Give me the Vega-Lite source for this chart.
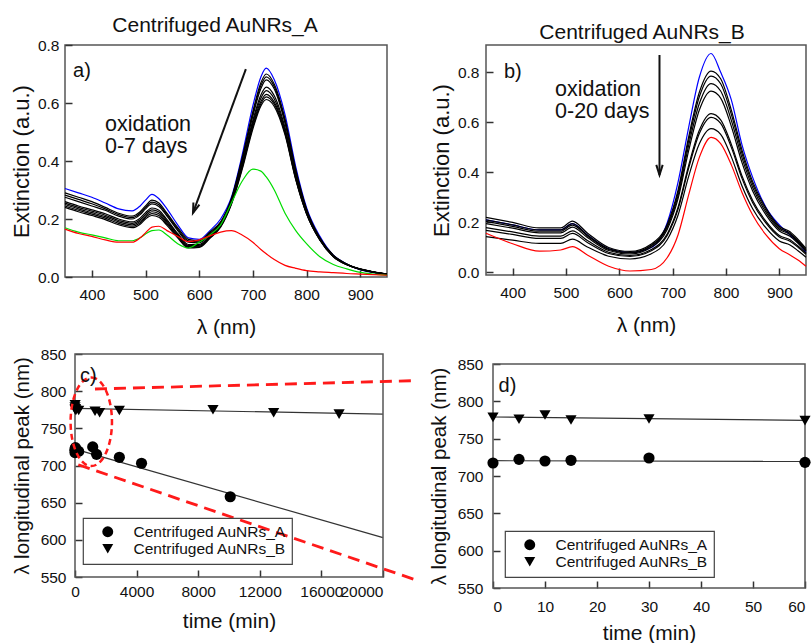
{
  "$schema": "https://vega.github.io/schema/vega-lite/v6.json",
  "background": "white",
  "padding": {"left": 9, "top": 14, "right": 2, "bottom": 2},
  "spacing": 8,
  "resolve": {"scale": {"color": "independent", "shape": "independent"}, "legend": {"color": "independent", "shape": "independent"}},
  "config": {
    "font": "Liberation Sans",
    "view": {"stroke": "#555", "strokeWidth": 1.5},
    "axis": {"grid": false, "domain": false, "ticks": true, "tickSize": 7, "offset": -7, "tickColor": "#333", "tickWidth": 1.5, "labelOverlap": false, "zindex": 1,
      "labelFont": "Liberation Sans", "labelFontSize": 15.5, "labelColor": "#111",
      "titleFont": "Liberation Sans", "titleFontSize": 21, "titleFontWeight": "normal", "titleColor": "#111"},
    "title": {"font": "Liberation Sans", "fontSize": 21, "fontWeight": "normal", "color": "#111", "anchor": "middle"},
    "legend": {"orient": "none", "title": null, "labelFont": "Liberation Sans", "labelFontSize": 15.5, "labelColor": "#111",
      "strokeColor": "#444", "strokeWidth": 1.2, "padding": 6, "symbolSize": 120, "symbolFillColor": "#000", "symbolStrokeWidth": 0,
      "symbolOffset": 11, "labelOffset": 18, "rowPadding": 0}
  },
  "datasets": {
    "specA": [
      {"wl":350,"pa":0.305,"pb":0.29,"pc":0.2825,"pd":0.275,"pe":0.26,"pf":0.255,"pg":0.25,"ph":0.245,"pi":0.24,"pj":0.17,"pk":0.165},
      {"wl":375,"pa":0.29,"pb":0.275,"pc":0.2675,"pd":0.26,"pe":0.245,"pf":0.24,"pg":0.235,"ph":0.23,"pi":0.225,"pj":0.155,"pk":0.15},
      {"wl":400,"pa":0.275,"pb":0.26,"pc":0.2525,"pd":0.245,"pe":0.232,"pf":0.227,"pg":0.222,"ph":0.217,"pi":0.212,"pj":0.145,"pk":0.14},
      {"wl":425,"pa":0.255,"pb":0.24,"pc":0.235,"pd":0.23,"pe":0.218,"pf":0.213,"pg":0.208,"ph":0.203,"pi":0.198,"pj":0.135,"pk":0.128},
      {"wl":450,"pa":0.235,"pb":0.22,"pc":0.215,"pd":0.21,"pe":0.2,"pf":0.195,"pg":0.19,"ph":0.185,"pi":0.18,"pj":0.125,"pk":0.12},
      {"wl":475,"pa":0.228,"pb":0.21,"pc":0.205,"pd":0.2,"pe":0.19,"pf":0.185,"pg":0.18,"ph":0.175,"pi":0.17,"pj":0.125,"pk":0.12},
      {"wl":490,"pa":0.245,"pb":0.225,"pc":0.22,"pd":0.215,"pe":0.203,"pf":0.1975,"pg":0.192,"ph":0.187,"pi":0.182,"pj":0.135,"pk":0.135},
      {"wl":500,"pa":0.265,"pb":0.245,"pc":0.24,"pd":0.235,"pe":0.222,"pf":0.216,"pg":0.21,"ph":0.205,"pi":0.2,"pj":0.148,"pk":0.152},
      {"wl":512,"pa":0.285,"pb":0.265,"pc":0.2585,"pd":0.252,"pe":0.238,"pf":0.2315,"pg":0.225,"ph":0.2185,"pi":0.212,"pj":0.16,"pk":0.172},
      {"wl":525,"pa":0.27,"pb":0.255,"pc":0.249,"pd":0.243,"pe":0.23,"pf":0.224,"pg":0.218,"ph":0.212,"pi":0.206,"pj":0.162,"pk":0.175},
      {"wl":540,"pa":0.235,"pb":0.22,"pc":0.215,"pd":0.21,"pe":0.198,"pf":0.193,"pg":0.188,"ph":0.183,"pi":0.178,"pj":0.145,"pk":0.16},
      {"wl":560,"pa":0.18,"pb":0.17,"pc":0.165,"pd":0.16,"pe":0.15,"pf":0.146,"pg":0.142,"ph":0.1385,"pi":0.135,"pj":0.115,"pk":0.14},
      {"wl":580,"pa":0.135,"pb":0.13,"pc":0.125,"pd":0.12,"pe":0.112,"pf":0.1085,"pg":0.105,"ph":0.1025,"pi":0.1,"pj":0.1,"pk":0.122},
      {"wl":600,"pa":0.13,"pb":0.125,"pc":0.1215,"pd":0.118,"pe":0.112,"pf":0.109,"pg":0.106,"ph":0.104,"pi":0.102,"pj":0.12,"pk":0.128},
      {"wl":620,"pa":0.16,"pb":0.155,"pc":0.1515,"pd":0.148,"pe":0.142,"pf":0.1395,"pg":0.137,"ph":0.135,"pi":0.133,"pj":0.145,"pk":0.142},
      {"wl":640,"pa":0.2,"pb":0.19,"pc":0.1875,"pd":0.185,"pe":0.18,"pf":0.178,"pg":0.176,"ph":0.174,"pi":0.172,"pj":0.18,"pk":0.155},
      {"wl":660,"pa":0.275,"pb":0.27,"pc":0.2675,"pd":0.265,"pe":0.26,"pf":0.2575,"pg":0.255,"ph":0.2525,"pi":0.25,"pj":0.255,"pk":0.16},
      {"wl":680,"pa":0.42,"pb":0.41,"pc":0.405,"pd":0.4,"pe":0.39,"pf":0.385,"pg":0.38,"ph":0.375,"pi":0.37,"pj":0.33,"pk":0.145},
      {"wl":700,"pa":0.59,"pb":0.57,"pc":0.5625,"pd":0.555,"pe":0.54,"pf":0.5325,"pg":0.525,"ph":0.5175,"pi":0.51,"pj":0.372,"pk":0.12},
      {"wl":715,"pa":0.69,"pb":0.67,"pc":0.66,"pd":0.65,"pe":0.628,"pf":0.6165,"pg":0.605,"ph":0.5975,"pi":0.59,"pj":0.365,"pk":0.095},
      {"wl":725,"pa":0.72,"pb":0.7,"pc":0.69,"pd":0.68,"pe":0.655,"pf":0.6425,"pg":0.63,"ph":0.621,"pi":0.612,"pj":0.345,"pk":0.08},
      {"wl":740,"pa":0.68,"pb":0.665,"pc":0.6565,"pd":0.648,"pe":0.625,"pf":0.614,"pg":0.603,"ph":0.5955,"pi":0.588,"pj":0.3,"pk":0.06},
      {"wl":760,"pa":0.56,"pb":0.545,"pc":0.5375,"pd":0.53,"pe":0.515,"pf":0.5075,"pg":0.5,"ph":0.495,"pi":0.49,"pj":0.22,"pk":0.04},
      {"wl":780,"pa":0.38,"pb":0.37,"pc":0.365,"pd":0.36,"pe":0.35,"pf":0.345,"pg":0.34,"ph":0.3375,"pi":0.335,"pj":0.16,"pk":0.03},
      {"wl":800,"pa":0.24,"pb":0.235,"pc":0.2325,"pd":0.23,"pe":0.225,"pf":0.2225,"pg":0.22,"ph":0.219,"pi":0.218,"pj":0.115,"pk":0.022},
      {"wl":825,"pa":0.14,"pb":0.135,"pc":0.1335,"pd":0.132,"pe":0.13,"pf":0.129,"pg":0.128,"ph":0.1275,"pi":0.127,"pj":0.07,"pk":0.018},
      {"wl":850,"pa":0.075,"pb":0.075,"pc":0.074,"pd":0.073,"pe":0.072,"pf":0.0715,"pg":0.071,"ph":0.0705,"pi":0.07,"pj":0.043,"pk":0.015},
      {"wl":875,"pa":0.045,"pb":0.045,"pc":0.0445,"pd":0.044,"pe":0.043,"pf":0.043,"pg":0.043,"ph":0.0425,"pi":0.042,"pj":0.028,"pk":0.012},
      {"wl":900,"pa":0.025,"pb":0.028,"pc":0.0275,"pd":0.027,"pe":0.027,"pf":0.027,"pg":0.027,"ph":0.0265,"pi":0.026,"pj":0.016,"pk":0.01},
      {"wl":925,"pa":0.015,"pb":0.018,"pc":0.0175,"pd":0.017,"pe":0.017,"pf":0.017,"pg":0.017,"ph":0.0165,"pi":0.016,"pj":0.01,"pk":0.008},
      {"wl":950,"pa":0.01,"pb":0.01,"pc":0.01,"pd":0.01,"pe":0.01,"pf":0.01,"pg":0.01,"ph":0.01,"pi":0.01,"pj":0.006,"pk":0.006}
    ],
    "specB": [
      {"wl":350,"qa":0.21,"qb":0.22,"qc":0.21,"qd":0.204,"qe":0.195,"qf":0.179,"qg":0.168,"qh":0.143,"qi":0.157},
      {"wl":400,"qa":0.19,"qb":0.2,"qc":0.19,"qd":0.184,"qe":0.177,"qf":0.162,"qg":0.152,"qh":0.129,"qi":0.115},
      {"wl":450,"qa":0.17,"qb":0.178,"qc":0.17,"qd":0.165,"qe":0.158,"qf":0.145,"qg":0.136,"qh":0.116,"qi":0.085},
      {"wl":490,"qa":0.17,"qb":0.178,"qc":0.17,"qd":0.165,"qe":0.158,"qf":0.145,"qg":0.136,"qh":0.116,"qi":0.09},
      {"wl":512,"qa":0.195,"qb":0.205,"qc":0.195,"qd":0.189,"qe":0.181,"qf":0.166,"qg":0.156,"qh":0.133,"qi":0.103},
      {"wl":540,"qa":0.15,"qb":0.158,"qc":0.15,"qd":0.146,"qe":0.14,"qf":0.128,"qg":0.12,"qh":0.102,"qi":0.07},
      {"wl":580,"qa":0.095,"qb":0.1,"qc":0.095,"qd":0.092,"qe":0.088,"qf":0.081,"qg":0.076,"qh":0.065,"qi":0.025},
      {"wl":620,"qa":0.08,"qb":0.084,"qc":0.08,"qd":0.078,"qe":0.074,"qf":0.068,"qg":0.064,"qh":0.054,"qi":0.006},
      {"wl":660,"qa":0.1,"qb":0.114,"qc":0.109,"qd":0.106,"qe":0.101,"qf":0.092,"qg":0.087,"qh":0.075,"qi":0.012},
      {"wl":690,"qa":0.2,"qb":0.194,"qc":0.187,"qd":0.181,"qe":0.173,"qf":0.155,"qg":0.149,"qh":0.132,"qi":0.06},
      {"wl":710,"qa":0.36,"qb":0.328,"qc":0.318,"qd":0.306,"qe":0.294,"qf":0.26,"qg":0.252,"qh":0.229,"qi":0.15},
      {"wl":730,"qa":0.58,"qb":0.542,"qc":0.527,"qd":0.508,"qe":0.487,"qf":0.428,"qg":0.417,"qh":0.384,"qi":0.31},
      {"wl":750,"qa":0.78,"qb":0.72,"qc":0.702,"qd":0.675,"qe":0.649,"qf":0.568,"qg":0.555,"qh":0.514,"qi":0.46},
      {"wl":772,"qa":0.875,"qb":0.805,"qc":0.785,"qd":0.755,"qe":0.725,"qf":0.635,"qg":0.62,"qh":0.575,"qi":0.54},
      {"wl":790,"qa":0.8,"qb":0.774,"qc":0.754,"qd":0.725,"qe":0.697,"qf":0.61,"qg":0.596,"qh":0.552,"qi":0.515},
      {"wl":810,"qa":0.69,"qb":0.649,"qc":0.632,"qd":0.608,"qe":0.584,"qf":0.512,"qg":0.5,"qh":0.462,"qi":0.43},
      {"wl":830,"qa":0.51,"qb":0.489,"qc":0.475,"qd":0.458,"qe":0.439,"qf":0.386,"qg":0.376,"qh":0.346,"qi":0.32},
      {"wl":850,"qa":0.38,"qb":0.363,"qc":0.353,"qd":0.34,"qe":0.326,"qf":0.288,"qg":0.279,"qh":0.255,"qi":0.23},
      {"wl":875,"qa":0.26,"qb":0.257,"qc":0.249,"qd":0.24,"qe":0.23,"qf":0.204,"qg":0.197,"qh":0.178,"qi":0.15},
      {"wl":900,"qa":0.19,"qb":0.185,"qc":0.179,"qd":0.173,"qe":0.166,"qf":0.148,"qg":0.142,"qh":0.126,"qi":0.095},
      {"wl":920,"qa":0.15,"qb":0.163,"qc":0.157,"qd":0.152,"qe":0.145,"qf":0.131,"qg":0.125,"qh":0.11,"qi":0.07},
      {"wl":935,"qa":0.12,"qb":0.132,"qc":0.126,"qd":0.122,"qe":0.117,"qf":0.106,"qg":0.101,"qh":0.087,"qi":0.05},
      {"wl":950,"qa":0.08,"qb":0.096,"qc":0.091,"qd":0.088,"qe":0.085,"qf":0.078,"qg":0.073,"qh":0.061,"qi":0.025}
    ],
    "ptsC": [
      {"series":"Centrifuged AuNRs_A","t":0,"v":717.4},
      {"series":"Centrifuged AuNRs_A","t":5,"v":722.3},
      {"series":"Centrifuged AuNRs_A","t":10,"v":720.1},
      {"series":"Centrifuged AuNRs_A","t":15,"v":721},
      {"series":"Centrifuged AuNRs_A","t":30,"v":724.1},
      {"series":"Centrifuged AuNRs_A","t":60,"v":718.3},
      {"series":"Centrifuged AuNRs_A","t":240,"v":719},
      {"series":"Centrifuged AuNRs_A","t":1150,"v":725},
      {"series":"Centrifuged AuNRs_A","t":1400,"v":715},
      {"series":"Centrifuged AuNRs_A","t":2880,"v":711},
      {"series":"Centrifuged AuNRs_A","t":4320,"v":703},
      {"series":"Centrifuged AuNRs_A","t":10080,"v":658},
      {"series":"Centrifuged AuNRs_B","t":0,"v":778.6},
      {"series":"Centrifuged AuNRs_B","t":5,"v":776},
      {"series":"Centrifuged AuNRs_B","t":10,"v":781.7},
      {"series":"Centrifuged AuNRs_B","t":15,"v":775},
      {"series":"Centrifuged AuNRs_B","t":30,"v":776.3},
      {"series":"Centrifuged AuNRs_B","t":60,"v":774.1},
      {"series":"Centrifuged AuNRs_B","t":240,"v":774},
      {"series":"Centrifuged AuNRs_B","t":1300,"v":773},
      {"series":"Centrifuged AuNRs_B","t":1600,"v":771},
      {"series":"Centrifuged AuNRs_B","t":2880,"v":774},
      {"series":"Centrifuged AuNRs_B","t":8960,"v":775},
      {"series":"Centrifuged AuNRs_B","t":12900,"v":771},
      {"series":"Centrifuged AuNRs_B","t":17150,"v":769}
    ],
    "ptsD": [
      {"series":"Centrifuged AuNRs_A","t":0,"v":717.4},
      {"series":"Centrifuged AuNRs_A","t":5,"v":722.3},
      {"series":"Centrifuged AuNRs_A","t":10,"v":720.1},
      {"series":"Centrifuged AuNRs_A","t":15,"v":721},
      {"series":"Centrifuged AuNRs_A","t":30,"v":724.1},
      {"series":"Centrifuged AuNRs_A","t":60,"v":718.3},
      {"series":"Centrifuged AuNRs_B","t":0,"v":778.6},
      {"series":"Centrifuged AuNRs_B","t":5,"v":776},
      {"series":"Centrifuged AuNRs_B","t":10,"v":781.7},
      {"series":"Centrifuged AuNRs_B","t":15,"v":775},
      {"series":"Centrifuged AuNRs_B","t":30,"v":776.3},
      {"series":"Centrifuged AuNRs_B","t":60,"v":774.1}
    ],
    "fitC": [
      {"id":"A","t":0,"v":722},
      {"id":"A","t":20000,"v":603},
      {"id":"B","t":0,"v":776.8},
      {"id":"B","t":20000,"v":769.2}
    ],
    "fitD": [
      {"id":"A","t":0,"v":720.5},
      {"id":"A","t":60,"v":719.5},
      {"id":"B","t":0,"v":779},
      {"id":"B","t":60,"v":774.5}
    ]
  },
  "vconcat": [
    {
      "resolve": {"scale": {"color": "independent", "shape": "independent"}, "legend": {"color": "independent", "shape": "independent"}},
      "hconcat": [
        {
          "width": 322, "height": 232,
          "title": {"text": "Centrifuged AuNRs_A", "dx": -11, "offset": 2},
          "layer": [
            {
              "data": {"name": "specA"},
              "transform": [{"fold": ["pa","pb","pc","pd","pe","pf","pg","ph","pi","pj","pk"], "as": ["curve","ext"]}],
              "mark": {"type": "line", "strokeWidth": 1.2, "interpolate": "monotone"},
              "encoding": {
                "x": {"field": "wl", "type": "quantitative", "scale": {"domain": [350, 950], "nice": false, "zero": false},
                  "axis": {"values": [400,500,600,700,800,900], "labelPadding": 10, "titlePadding": 14}, "title": "λ (nm)"},
                "y": {"field": "ext", "type": "quantitative", "scale": {"domain": [0, 0.8], "nice": false},
                  "axis": {"values": [0,0.2,0.4,0.6,0.8], "format": ".1f", "labelPadding": 6, "titlePadding": 4, "titleFontSize": 22, "tickCount": 10}, "title": "Extinction (a.u.)"},
                "color": {"field": "curve", "type": "nominal", "legend": null,
                  "scale": {"domain": ["pa","pb","pc","pd","pe","pf","pg","ph","pi","pj","pk"],
                    "range": ["#0000ff","#000000","#000000","#000000","#000000","#000000","#000000","#000000","#000000","#00dd00","#ff0000"]}}
              }
            },
            {
              "data": {"values": [{"wl": 424.5, "ext": 0.502, "t": "oxidation"}, {"wl": 424.5, "ext": 0.426, "t": "0-7 days"}]},
              "mark": {"type": "text", "align": "left", "baseline": "alphabetic", "fontSize": 21.5, "font": "Liberation Sans", "color": "#111"},
              "encoding": {
                "x": {"field": "wl", "type": "quantitative", "scale": {"domain": [350, 950], "nice": false, "zero": false}},
                "y": {"field": "ext", "type": "quantitative", "scale": {"domain": [0, 0.8], "nice": false}},
                "text": {"field": "t"}
              }
            },
            {
              "data": {"values": [{"wl": 365, "ext": 0.688, "t": "a)"}]},
              "mark": {"type": "text", "align": "left", "baseline": "alphabetic", "fontSize": 20, "font": "Liberation Sans", "color": "#111"},
              "encoding": {
                "x": {"field": "wl", "type": "quantitative", "scale": {"domain": [350, 950], "nice": false, "zero": false}},
                "y": {"field": "ext", "type": "quantitative", "scale": {"domain": [0, 0.8], "nice": false}},
                "text": {"field": "t"}
              }
            },
            {
              "data": {"values": [{"wl": 687, "ext": 0.717, "wl2": 588.5, "ext2": 0.221}]},
              "mark": {"type": "rule", "strokeWidth": 2, "color": "#111"},
              "encoding": {
                "x": {"field": "wl", "type": "quantitative", "scale": {"domain": [350, 950], "nice": false, "zero": false}},
                "y": {"field": "ext", "type": "quantitative", "scale": {"domain": [0, 0.8], "nice": false}},
                "x2": {"field": "wl2"},
                "y2": {"field": "ext2"}
              }
            },
            {
              "data": {"values": [{"wl": 588.5, "ext": 0.221}]},
              "mark": {"type": "point", "shape": "M-0.32,-1L0,0L0.32,-1", "filled": false, "stroke": "#111", "strokeWidth": 2, "size": 400, "angle": 20, "opacity": 1},
              "encoding": {
                "x": {"field": "wl", "type": "quantitative", "scale": {"domain": [350, 950], "nice": false, "zero": false}},
                "y": {"field": "ext", "type": "quantitative", "scale": {"domain": [0, 0.8], "nice": false}}
              }
            }
          ]
        },
        {
          "width": 320, "height": 230,
          "title": {"text": "Centrifuged AuNRs_B", "dx": -4, "offset": 2},
          "layer": [
            {
              "data": {"name": "specB"},
              "transform": [{"fold": ["qa","qb","qc","qd","qe","qf","qg","qh","qi"], "as": ["curve","ext"]}],
              "mark": {"type": "line", "strokeWidth": 1.2, "interpolate": "monotone"},
              "encoding": {
                "x": {"field": "wl", "type": "quantitative", "scale": {"domain": [350, 950], "nice": false, "zero": false},
                  "axis": {"values": [400,500,600,700,800,900], "labelPadding": 10, "titlePadding": 14}, "title": "λ (nm)"},
                "y": {"field": "ext", "type": "quantitative", "scale": {"domain": [-0.01, 0.909], "nice": false, "zero": false},
                  "axis": {"values": [0,0.2,0.4,0.6,0.8], "format": ".1f", "labelPadding": 7, "titlePadding": 4, "titleFontSize": 22, "tickCount": 10}, "title": "Extinction (a.u.)"},
                "color": {"field": "curve", "type": "nominal", "legend": null,
                  "scale": {"domain": ["qa","qb","qc","qd","qe","qf","qg","qh","qi"],
                    "range": ["#0000ff","#000000","#000000","#000000","#000000","#000000","#000000","#000000","#ff0000"]}}
              }
            },
            {
              "data": {"values": [{"wl": 479.4, "ext": 0.705, "t": "oxidation"}, {"wl": 479.4, "ext": 0.617, "t": "0-20 days"}]},
              "mark": {"type": "text", "align": "left", "baseline": "alphabetic", "fontSize": 21.5, "font": "Liberation Sans", "color": "#111"},
              "encoding": {
                "x": {"field": "wl", "type": "quantitative", "scale": {"domain": [350, 950], "nice": false, "zero": false}},
                "y": {"field": "ext", "type": "quantitative", "scale": {"domain": [-0.01, 0.909], "nice": false, "zero": false}},
                "text": {"field": "t"}
              }
            },
            {
              "data": {"values": [{"wl": 383.75, "ext": 0.779, "t": "b)"}]},
              "mark": {"type": "text", "align": "left", "baseline": "alphabetic", "fontSize": 20, "font": "Liberation Sans", "color": "#111"},
              "encoding": {
                "x": {"field": "wl", "type": "quantitative", "scale": {"domain": [350, 950], "nice": false, "zero": false}},
                "y": {"field": "ext", "type": "quantitative", "scale": {"domain": [-0.01, 0.909], "nice": false, "zero": false}},
                "text": {"field": "t"}
              }
            },
            {
              "data": {"values": [{"wl": 675.3, "ext": 0.869, "wl2": 675.3, "ext2": 0.39}]},
              "mark": {"type": "rule", "strokeWidth": 2, "color": "#111"},
              "encoding": {
                "x": {"field": "wl", "type": "quantitative", "scale": {"domain": [350, 950], "nice": false, "zero": false}},
                "y": {"field": "ext", "type": "quantitative", "scale": {"domain": [-0.01, 0.909], "nice": false, "zero": false}},
                "x2": {"field": "wl2"},
                "y2": {"field": "ext2"}
              }
            },
            {
              "data": {"values": [{"wl": 675.3, "ext": 0.39}]},
              "mark": {"type": "point", "shape": "M-0.32,-1L0,0L0.32,-1", "filled": false, "stroke": "#111", "strokeWidth": 2, "size": 400, "angle": 0, "opacity": 1},
              "encoding": {
                "x": {"field": "wl", "type": "quantitative", "scale": {"domain": [350, 950], "nice": false, "zero": false}},
                "y": {"field": "ext", "type": "quantitative", "scale": {"domain": [-0.01, 0.909], "nice": false, "zero": false}}
              }
            }
          ]
        }
      ],
      "spacing": 38
    },
    {
      "resolve": {"scale": {"color": "independent", "shape": "independent"}, "legend": {"color": "independent", "shape": "independent"}},
      "hconcat": [
        {
          "width": 318, "height": 223,
          "view": {"stroke": null},
          "layer": [
            {
              "data": {"name": "fitC"},
              "mark": {"type": "line", "strokeWidth": 1.2, "color": "#333"},
              "encoding": {
                "x": {"field": "t", "type": "quantitative", "scale": {"domain": [-649.35, 20000], "nice": false, "zero": false},
                  "axis": {"values": [0,4000,8000,12000,16000,20000], "format": "d", "labelPadding": 7, "titlePadding": 11, "titleX": 164}, "title": "time (min)"},
                "y": {"field": "v", "type": "quantitative", "scale": {"domain": [550, 850], "nice": false, "zero": false},
                  "axis": {"values": [550,600,650,700,750,800,850], "format": "d", "labelPadding": 9, "titlePadding": 8, "titleFontSize": 20.5, "tickCount": 10, "offset": -17}, "title": "λ longitudinal peak (nm)"},
                "detail": {"field": "id"}
              }
            },
            {
              "data": {"values": [{}]},
              "mark": {"type": "rect", "fillOpacity": 0, "stroke": "#555", "strokeWidth": 1.5},
              "encoding": {
                "x": {"datum": 0, "type": "quantitative", "scale": {"domain": [-649.35, 20000], "nice": false, "zero": false}},
                "x2": {"datum": 20000},
                "y": {"datum": 550, "type": "quantitative", "scale": {"domain": [550, 850], "nice": false, "zero": false}},
                "y2": {"datum": 850}
              }
            },
            {
              "data": {"name": "ptsC"},
              "mark": {"type": "point", "filled": true, "size": 125, "opacity": 1},
              "encoding": {
                "x": {"field": "t", "type": "quantitative", "scale": {"domain": [-649.35, 20000], "nice": false, "zero": false}},
                "y": {"field": "v", "type": "quantitative", "scale": {"domain": [550, 850], "nice": false, "zero": false}},
                "color": {"value": "#000"},
                "shape": {"field": "series", "type": "nominal",
                  "scale": {"domain": ["Centrifuged AuNRs_A","Centrifuged AuNRs_B"], "range": ["circle","triangle-down"]},
                  "legend": {"orient": "none", "legendX": 18, "legendY": 164}}
              }
            },
            {
              "data": {"values": [
                {"id": "top", "t": 1297, "v": 802.9},
                {"id": "top", "t": 21816, "v": 814},
                {"id": "bot", "t": 214, "v": 701},
                {"id": "bot", "t": 22141, "v": 546}
              ]},
              "mark": {"type": "line", "strokeWidth": 2.8, "color": "#ff1a1a", "strokeDash": [12, 7]},
              "encoding": {
                "x": {"field": "t", "type": "quantitative", "scale": {"domain": [-649.35, 20000], "nice": false, "zero": false}},
                "y": {"field": "v", "type": "quantitative", "scale": {"domain": [550, 850], "nice": false, "zero": false}},
                "detail": {"field": "id"}
              }
            },
            {
              "data": {"values": [{"t": 1057, "v": 758.8}]},
              "mark": {"type": "point", "shape": "M0,-1A0.467,1,0,1,1,0,1A0.467,1,0,1,1,0,-1Z", "filled": false, "stroke": "#ff1a1a", "strokeWidth": 2.5, "strokeDash": [6, 4], "size": 7850, "opacity": 1},
              "encoding": {
                "x": {"field": "t", "type": "quantitative", "scale": {"domain": [-649.35, 20000], "nice": false, "zero": false}},
                "y": {"field": "v", "type": "quantitative", "scale": {"domain": [550, 850], "nice": false, "zero": false}}
              }
            },
            {
              "data": {"values": [{"t": 324, "v": 812.9, "s": "c)"}]},
              "mark": {"type": "text", "align": "left", "baseline": "alphabetic", "fontSize": 20, "font": "Liberation Sans", "color": "#111"},
              "encoding": {
                "x": {"field": "t", "type": "quantitative", "scale": {"domain": [-649.35, 20000], "nice": false, "zero": false}},
                "y": {"field": "v", "type": "quantitative", "scale": {"domain": [550, 850], "nice": false, "zero": false}},
                "text": {"field": "s"}
              }
            }
          ]
        },
        {
          "width": 312, "height": 234,
          "view": {"stroke": null},
          "layer": [
            {
              "data": {"name": "fitD"},
              "mark": {"type": "line", "strokeWidth": 1.2, "color": "#333"},
              "encoding": {
                "x": {"field": "t", "type": "quantitative", "scale": {"domain": [0, 60], "nice": false, "zero": false},
                  "axis": {"values": [0,10,20,30,40,50,60], "format": "d", "labelPadding": 11, "titlePadding": 8}, "title": "time (min)"},
                "y": {"field": "v", "type": "quantitative", "scale": {"domain": [550, 863.4], "nice": false, "zero": false},
                  "axis": {"values": [550,600,650,700,750,800,850], "format": "d", "labelPadding": 10, "titlePadding": 8, "titleFontSize": 20.5, "titleY": 122, "tickCount": 10}, "title": "λ longitudinal peak (nm)"},
                "detail": {"field": "id"}
              }
            },
            {
              "data": {"values": [{}]},
              "mark": {"type": "rect", "fillOpacity": 0, "stroke": "#555", "strokeWidth": 1.5},
              "encoding": {
                "x": {"datum": 0, "type": "quantitative", "scale": {"domain": [0, 60], "nice": false, "zero": false}},
                "x2": {"datum": 60},
                "y": {"datum": 550, "type": "quantitative", "scale": {"domain": [550, 863.4], "nice": false, "zero": false}},
                "y2": {"datum": 850}
              }
            },
            {
              "data": {"name": "ptsD"},
              "mark": {"type": "point", "filled": true, "size": 125, "opacity": 1},
              "encoding": {
                "x": {"field": "t", "type": "quantitative", "scale": {"domain": [0, 60], "nice": false, "zero": false}},
                "y": {"field": "v", "type": "quantitative", "scale": {"domain": [550, 863.4], "nice": false, "zero": false}},
                "color": {"value": "#000"},
                "shape": {"field": "series", "type": "nominal",
                  "scale": {"domain": ["Centrifuged AuNRs_A","Centrifuged AuNRs_B"], "range": ["circle","triangle-down"]},
                  "legend": {"orient": "none", "legendX": 12, "legendY": 177}}
              }
            },
            {
              "data": {"values": [{"t": 1.08, "v": 813, "s": "d)"}]},
              "mark": {"type": "text", "align": "left", "baseline": "alphabetic", "fontSize": 20, "font": "Liberation Sans", "color": "#111"},
              "encoding": {
                "x": {"field": "t", "type": "quantitative", "scale": {"domain": [0, 60], "nice": false, "zero": false}},
                "y": {"field": "v", "type": "quantitative", "scale": {"domain": [550, 863.4], "nice": false, "zero": false}},
                "text": {"field": "s"}
              }
            }
          ]
        }
      ],
      "spacing": 7
    }
  ]
}
